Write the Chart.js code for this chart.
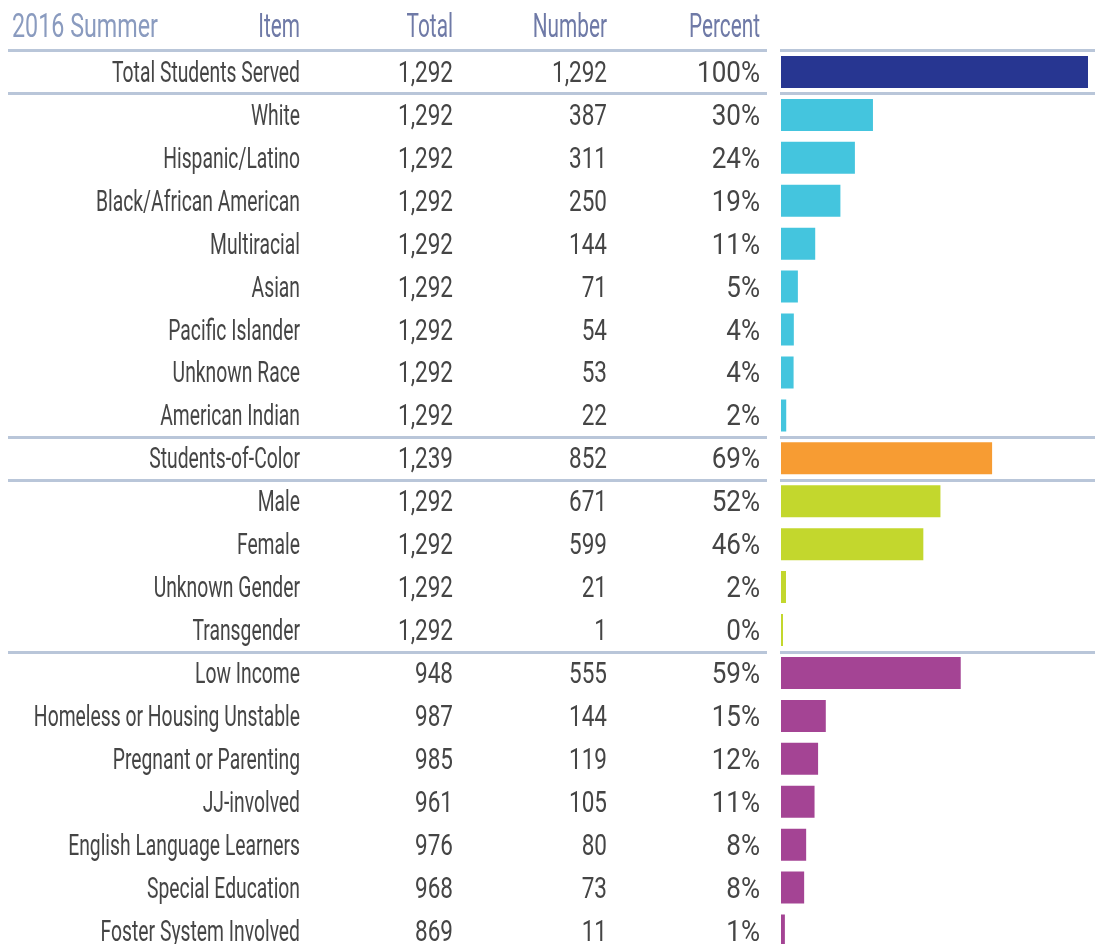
<!DOCTYPE html>
<html>
<head>
<meta charset="utf-8">
<script src="https://cdn.jsdelivr.net/npm/chart.js@4/dist/chart.umd.min.js"></script>
<style>
  html, body { margin: 0; padding: 0; background: #fff; overflow: hidden; }
  canvas { display: block; }
</style>
</head>
<body>
<canvas id="grafico" width="1095" height="975"></canvas>
<script>
// Datos de la tabla
const items = [
  'Total Students Served',
  'White', 'Hispanic/Latino', 'Black/African American', 'Multiracial', 'Asian',
  'Pacific Islander', 'Unknown Race', 'American Indian',
  'Students-of-Color',
  'Male', 'Female', 'Unknown Gender', 'Transgender',
  'Low Income', 'Homeless or Housing Unstable', 'Pregnant or Parenting', 'JJ-involved',
  'English Language Learners', 'Special Education', 'Foster System Involved'
];
const totals = [1292, 1292, 1292, 1292, 1292, 1292, 1292, 1292, 1292, 1239,
  1292, 1292, 1292, 1292, 948, 987, 985, 961, 976, 968, 869];
const numbers = [1292, 387, 311, 250, 144, 71, 54, 53, 22, 852,
  671, 599, 21, 1, 555, 144, 119, 105, 80, 73, 11];
const percents = [100, 30, 24, 19, 11, 5, 4, 4, 2, 69, 52, 46, 2, 0, 59, 15, 12, 11, 8, 8, 1];
// grupo de cada fila (para el color y las lineas)
const groups = [0, 1, 1, 1, 1, 1, 1, 1, 1, 2, 3, 3, 3, 3, 4, 4, 4, 4, 4, 4, 4];
const groupColors = ['#273691', '#44c5de', '#f79c33', '#c3d72d', '#a44494'];
const headers = ['Item', 'Total', 'Number', 'Percent'];
const title = '2016 Summer';

const shares = numbers.map((n, i) => n / totals[i] * 100);

// Plugin que dibuja la tabla de texto y las lineas separadoras
const tablaPlugin = {
  id: 'tabla',
  afterDraw(chart) {
    const ctx = chart.ctx;
    const y = chart.scales.y;
    const band = y.getPixelForValue(1) - y.getPixelForValue(0);

    // factor de escala horizontal para imitar una letra condensada
    function escala(font, muestra, ancho) {
      ctx.save();
      ctx.font = font;
      const w = ctx.measureText(muestra).width;
      ctx.restore();
      return ancho / w;
    }

    function texto(t, x, yy, font, color, sx, align) {
      ctx.save();
      ctx.translate(x, yy);
      ctx.scale(sx, 1);
      ctx.font = font;
      ctx.fillStyle = color;
      ctx.textAlign = align;
      ctx.textBaseline = 'alphabetic';
      ctx.fillText(t, 0, 0);
      ctx.restore();
    }

    // lineas
    ctx.save();
    ctx.strokeStyle = '#b9c6d9';
    ctx.lineWidth = 3;
    const lineRows = [0];
    for (let i = 1; i < items.length; i++) {
      if (groups[i] !== groups[i - 1]) lineRows.push(i);
    }
    lineRows.forEach(i => {
      const ly = Math.round(y.getPixelForValue(i) - band / 2) + 0.5;
      ctx.beginPath();
      ctx.moveTo(8, ly); ctx.lineTo(767, ly);
      ctx.moveTo(780, ly); ctx.lineTo(1095, ly);
      ctx.stroke();
    });
    ctx.restore();

    // encabezado
    const headFont = '33px "Liberation Sans Narrow", "Arial Narrow", Roboto, sans-serif';
    texto(title, 12, 37, headFont, '#8a9bbf', escala(headFont, title, 146), 'left');
    const sxHead = escala(headFont, 'Percent', 71);
    const cols = [300, 453, 607, 760];
    headers.forEach((h, i) => texto(h, cols[i], 37, headFont, '#6f7aa7', sxHead, 'right'));

    // filas
    const bodyFont = '30px "Liberation Sans Narrow", "Arial Narrow", Roboto, sans-serif';
    const sxLabel = escala(bodyFont, 'Total Students Served', 188);
    const sxNum = escala(bodyFont, '1,292', 55);
    const sxPct = escala(bodyFont, '100%', 63);
    items.forEach((it, i) => {
      const by = y.getPixelForValue(i) + 10;
      texto(it, 300, by, bodyFont, '#454545', sxLabel, 'right');
      texto(totals[i].toLocaleString('en-US'), 453, by, bodyFont, '#454545', sxNum, 'right');
      texto(numbers[i].toLocaleString('en-US'), 607, by, bodyFont, '#454545', sxNum, 'right');
      texto(percents[i] + '%', 760, by, bodyFont, '#454545', sxPct, 'right');
    });
  }
};

const ctx = document.getElementById('grafico').getContext('2d');
const grafico = new Chart(ctx, {
  type: 'bar',
  data: {
    labels: items,
    datasets: [{
      data: shares,
      backgroundColor: groups.map(g => groupColors[g]),
      barPercentage: 0.745,
      categoryPercentage: 1,
      minBarLength: 2
    }]
  },
  options: {
    indexAxis: 'y',
    responsive: false,
    animation: false,
    devicePixelRatio: 1,
    layout: { padding: { left: 781, right: 7, top: 50.5, bottom: 23 } },
    plugins: { legend: { display: false }, tooltip: { enabled: false } },
    scales: {
      x: { display: false, min: 0, max: 100 },
      y: { display: false }
    }
  },
  plugins: [tablaPlugin]
});
</script>
</body>
</html>
